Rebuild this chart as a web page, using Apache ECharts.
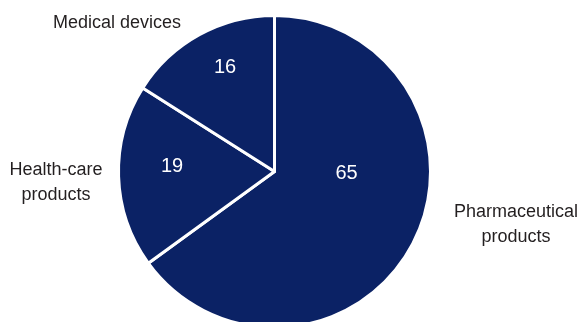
<!DOCTYPE html>
<html>
<head>
<meta charset="utf-8">
<script src="https://cdn.jsdelivr.net/npm/echarts@6/dist/echarts.min.js"></script>
<style>
html,body{margin:0;padding:0;background:#fff;}
#chart{width:582px;height:322px;}
</style>
</head>
<body>
<div id="chart"></div>
<script>
const categories = ['Pharmaceutical\nproducts', 'Health-care\nproducts', 'Medical devices'];
const values = [65, 19, 16];

const innerLabelPos = [[346.5, 173.5], [172, 166.5], [225, 67]];
const outerLabelPos = [[516, 224.5], [56, 182.5], [117, 23]];
const FONT = '"Liberation Sans", Arial, sans-serif';

const data = categories.map((c, i) => ({ name: c, value: values[i] }));

const chart = echarts.init(document.getElementById('chart'), null, { renderer: 'canvas' });
chart.setOption({
  animation: false,
  backgroundColor: '#ffffff',
  series: [
    {
      type: 'pie',
      center: [274.5, 171.5],
      radius: 156,
      startAngle: 90,
      clockwise: true,
      data: data,
      itemStyle: { color: '#0b2265', borderColor: '#ffffff', borderWidth: 3 },
      emphasis: { disabled: true },
      label: {
        show: true, position: 'inside', formatter: '{c}',
        color: '#ffffff', fontSize: 20, fontFamily: FONT
      },
      labelLayout: function (p) {
        const pos = innerLabelPos[p.dataIndex];
        return { x: pos[0], y: pos[1], align: 'center', verticalAlign: 'middle' };
      }
    },
    {
      type: 'pie',
      center: [274.5, 171.5],
      radius: 156,
      startAngle: 90,
      clockwise: true,
      silent: true,
      data: data,
      itemStyle: { color: 'rgba(0,0,0,0)', borderWidth: 0 },
      emphasis: { disabled: true },
      label: {
        show: true, position: 'inside', formatter: '{b}', overflow: 'none',
        color: '#231f20', fontSize: 18, lineHeight: 25, fontFamily: FONT, align: 'center'
      },
      labelLine: { show: false },
      labelLayout: function (p) {
        const pos = outerLabelPos[p.dataIndex];
        return { x: pos[0], y: pos[1], align: 'center', verticalAlign: 'middle' };
      }
    }
  ]
});
</script>
</body>
</html>
